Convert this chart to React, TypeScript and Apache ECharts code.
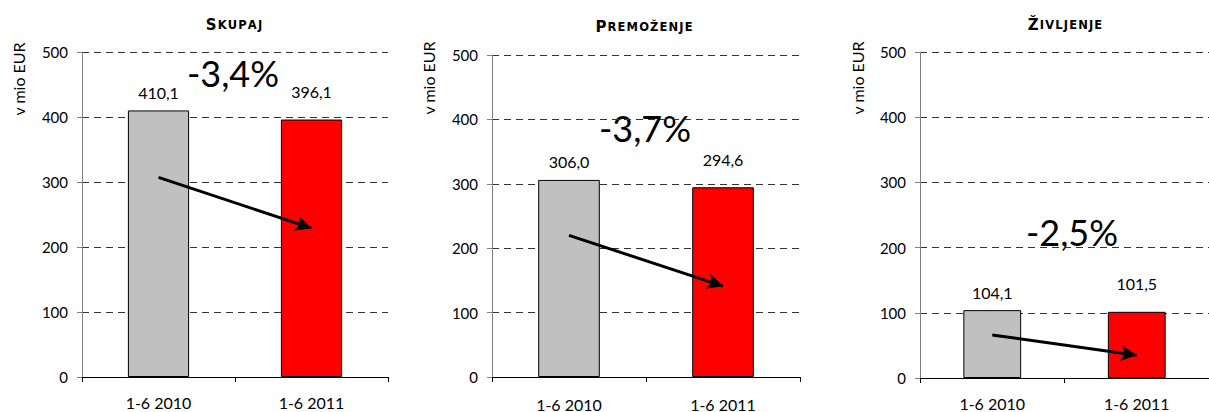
import React, { useEffect, useRef } from "react";
import * as echarts from "echarts";

const categories = ["1-6 2010", "1-6 2011"];
const panelTitles = ["Skupaj", "Premoženje", "Življenje"];
const valuesSkupaj = [410.1, 396.1];
const valuesPremozenje = [306.0, 294.6];
const valuesZivljenje = [104.1, 101.5];
const arrowStart = [307, 220, 66];
const arrowEnd = [229, 141, 35];
const yTicks = [0, 100, 200, 300, 400, 500];
const barColors = ["#C0C0C0", "#FF0000"];

const panelValues = [valuesSkupaj, valuesPremozenje, valuesZivljenje];

const grids = [
  { left: 82, top: 52, width: 306, height: 325 },
  { left: 492, top: 55, width: 308, height: 325 },
  { left: 920, top: 52, width: 299, height: 326 },
];
const pctPos = [
  [233, 73],
  [645, 128],
  [1072, 232],
];
const titlePos = [
  [234, 25],
  [644, 27],
  [1065, 25],
];
const yNamePos = [
  [18, 79],
  [428, 78],
  [857, 78],
];
const xLabelMargin = [17, 19, 17];

const FONT = "Lato";
const fmt = (v: number) => v.toFixed(1).replace(".", ",");

function smallCaps(t: string) {
  const up = t.toUpperCase();
  const first = up.charAt(0);
  const rest = up.slice(1).split("").join("\u200A");
  return `{a|${first}}{b|\u200A${rest}}`;
}

export default function App() {
  const ref = useRef<HTMLDivElement>(null);
  useEffect(() => {
    if (!ref.current) return;
    const chart = echarts.init(ref.current, undefined, { renderer: "svg" });
    const xAxis: any[] = [];
    const yAxis: any[] = [];
    const series: any[] = [];
    const graphic: any[] = [];
    panelValues.forEach((vals, i) => {
      xAxis.push({
        type: "category",
        gridIndex: i,
        data: categories,
        boundaryGap: true,
        axisLine: { show: true, lineStyle: { color: "#000", width: 1 } },
        axisTick: { show: true, length: 5, lineStyle: { color: "#000" } },
        axisLabel: { fontSize: 16, color: "#000", fontFamily: FONT, margin: xLabelMargin[i] },
      });
      yAxis.push({
        type: "value",
        gridIndex: i,
        min: yTicks[0],
        max: yTicks[yTicks.length - 1],
        interval: yTicks[1] - yTicks[0],
        axisLine: { show: true, lineStyle: { color: "#808080", width: 1 } },
        axisTick: { show: true, length: 5, lineStyle: { color: "#808080" } },
        axisLabel: { fontSize: 15, color: "#000", fontFamily: FONT, margin: 14 },
        splitLine: { show: true, lineStyle: { color: "#333", width: 1, type: [7, 5] } },
      });
      series.push({
        type: "bar",
        xAxisIndex: i,
        yAxisIndex: i,
        barWidth: "40%",
        data: vals.map((v, j) => ({
          value: v,
          itemStyle: { color: barColors[j], borderColor: "#000", borderWidth: 1 },
          label: { distance: j === 0 ? 10 : 20 },
        })),
        label: {
          show: true,
          position: "top",
          fontSize: 16,
          color: "#000",
          fontFamily: FONT,
          formatter: (p: any) => fmt(p.value),
        },
        markLine: {
          silent: true,
          symbol: ["none", "arrow"],
          symbolSize: [12, 16],
          label: { show: false },
          lineStyle: { color: "#000", width: 3, type: "solid" },
          data: [[{ coord: [0, arrowStart[i]] }, { coord: [1, arrowEnd[i]] }]],
        },
      });
      const pct = (vals[1] / vals[0] - 1) * 100;
      graphic.push({
        type: "text",
        x: pctPos[i][0],
        y: pctPos[i][1],
        style: {
          text: pct.toFixed(1).replace(".", ",") + "%",
          fontSize: 36,
          fontFamily: FONT,
          fill: "#000",
          align: "center",
          verticalAlign: "middle",
        },
      });
      graphic.push({
        type: "text",
        x: titlePos[i][0],
        y: titlePos[i][1],
        style: {
          text: smallCaps(panelTitles[i]),
          align: "center",
          verticalAlign: "middle",
          rich: {
            a: { fontSize: 15, fontWeight: "bold", fontFamily: "DejaVu Sans", fill: "#000" },
            b: { fontSize: 11.5, fontWeight: "bold", fontFamily: "DejaVu Sans", fill: "#000" },
          },
        },
      });
      graphic.push({
        type: "text",
        x: yNamePos[i][0],
        y: yNamePos[i][1],
        rotation: Math.PI / 2,
        style: {
          text: "v mio EUR",
          fontSize: 16,
          fontFamily: FONT,
          fill: "#000",
          align: "center",
          verticalAlign: "middle",
        },
      });
    });
    chart.setOption({
      animation: false,
      backgroundColor: "#fff",
      grid: grids.map((g) => ({ ...g, containLabel: false })),
      xAxis,
      yAxis,
      series,
      graphic,
    });
    return () => chart.dispose();
  }, []);
  return (
    <div
      ref={ref}
      style={{ position: "fixed", left: 0, top: 0, width: 1209, height: 412 }}
    />
  );
}
